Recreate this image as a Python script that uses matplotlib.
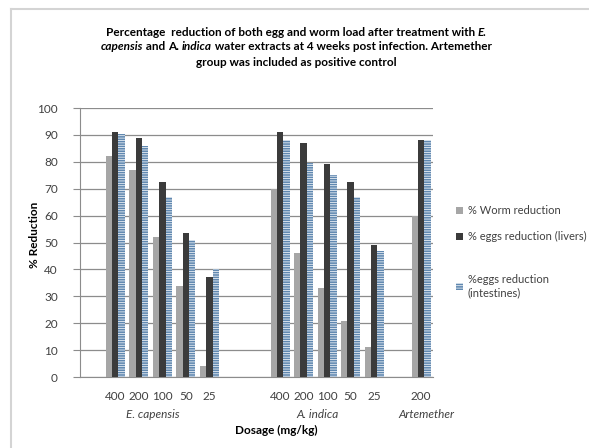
import numpy as np
import matplotlib
matplotlib.use('Agg')
import matplotlib.pyplot as plt
from matplotlib.lines import Line2D

plt.rcParams['font.family'] = ['Lato', 'DejaVu Sans']
plt.rcParams['hatch.linewidth'] = 1.2

# data
groups = ['E. capensis', 'A. indica', 'Artemether']
doses = [['400', '200', '100', '50', '25'],
         ['400', '200', '100', '50', '25'],
         ['200']]
worm = [[82, 77, 52, 34, 4],
        [70, 46, 33, 21, 11],
        [60]]
eggs_liver = [[91, 89, 72.5, 53.5, 37],
              [91, 87, 79, 72.5, 49],
              [88]]
eggs_intest = [[90.5, 86, 67, 51, 40],
               [88, 79.5, 75, 67, 47],
               [88]]
series_names = ['% Worm reduction', '% eggs reduction (livers)',
                '%eggs reduction\n(intestines)']
gaps_before = [1, 2, 1]   # empty category slots before each group

# category slot positions
pos, labels, grp_pos = [], [], []
slot = 0
for g, d in zip(gaps_before, doses):
    slot += g
    p = list(range(slot, slot + len(d)))
    pos += p
    labels += d
    grp_pos.append(p)
    slot += len(d)
n_slots = slot
pos = np.array(pos, dtype=float) + 0.5

w_vals = sum(worm, [])
l_vals = sum(eggs_liver, [])
i_vals = sum(eggs_intest, [])

fig = plt.figure(figsize=(5.89, 4.48), dpi=100)
ax = fig.add_axes([80 / 589, 1 - 377 / 448, 353 / 589, 269 / 448])

bw = 0.27
b1 = ax.bar(pos - bw, w_vals, bw, color='#a6a6a6', linewidth=0, zorder=3)
b2 = ax.bar(pos, l_vals, bw, color='#3b3b3b', linewidth=0, zorder=3)
b3 = ax.bar(pos + bw, i_vals, bw, facecolor='white', edgecolor='#6088b0',
            hatch='-------', linewidth=0, zorder=3)

ax.set_xlim(0, n_slots)
ax.set_ylim(0, 100)
ax.set_yticks(np.arange(0, 101, 10))
ax.yaxis.grid(True, color='#8c8c8c', linewidth=0.9, zorder=0)
for s in ['top', 'right']:
    ax.spines[s].set_visible(False)
for s in ['left', 'bottom']:
    ax.spines[s].set_color('#8c8c8c')
ax.set_xticks(pos)
ax.set_xticklabels(labels)
ax.tick_params(axis='x', length=0, pad=10, labelsize=8.5, colors='#404040')
ax.tick_params(axis='y', length=5, color='#8c8c8c', labelsize=8.5,
               labelcolor='#404040', pad=11)

for g, gp in zip(groups, grp_pos):
    if len(gp) > 1:
        cx = (gp[0] - 1 + gp[-1] + 1) / 2 + 0.1
    else:
        cx = gp[0] + 0.7
    ax.text(cx, -0.14, g, transform=ax.get_xaxis_transform(), ha='center',
            va='center', fontsize=8.5, style='italic', color='#404040')

fig.text(276 / 589, 1 - 430 / 448, 'Dosage (mg/kg)', ha='center', va='center',
         fontsize=8.5, fontweight='bold')
fig.text(35 / 589, 1 - 235 / 448, '% Reduction', ha='center', va='center',
         rotation=90, fontsize=8.5, fontweight='bold')

leg_kw = dict(loc='upper left', bbox_transform=fig.transFigure, frameon=False,
              fontsize=8, handlelength=0.6, handleheight=0.6,
              handletextpad=0.45, labelspacing=1.35, labelcolor='#404040')
leg1 = ax.legend([b1, b2], series_names[:2],
                 bbox_to_anchor=(446 / 589, 1 - 195 / 448), **leg_kw)
ax.add_artist(leg1)
ax.legend([b3], series_names[2:],
          bbox_to_anchor=(446 / 589, 1 - 264 / 448), **leg_kw)

# title with italic pieces
title_lines = [
    [('Percentage  reduction of both egg and worm load after treatment with ', 'normal'),
     ('E.', 'italic')],
    [('capensis', 'italic'), (' and ', 'normal'), ('A. ', 'normal'),
     ('indica', 'italic'),
     (' water extracts at 4 weeks post infection. Artemether', 'normal')],
    [('group was included as positive control', 'normal')],
]
title_y = [32, 47, 63]
fig.canvas.draw()
r = fig.canvas.get_renderer()
for line, yy in zip(title_lines, title_y):
    objs = []
    for txt, st in line:
        t = fig.text(0, 1 - yy / 448, txt, fontsize=8.5, fontweight='bold',
                     style=st, va='center', ha='left')
        objs.append(t)
    widths = [o.get_window_extent(r).width for o in objs]
    x = 296 - sum(widths) / 2
    for o, wd in zip(objs, widths):
        o.set_x(x / 589)
        x += wd

# frame lines of the chart area
fig.add_artist(Line2D([11 / 589, 11 / 589], [1 - 9 / 448, 0], color='#d4d4d4',
                      linewidth=1.5, transform=fig.transFigure))
fig.add_artist(Line2D([11 / 589, 1], [1 - 9 / 448, 1 - 9 / 448], color='#d4d4d4',
                      linewidth=1.5, transform=fig.transFigure))

fig.savefig('out.png', dpi=100)
